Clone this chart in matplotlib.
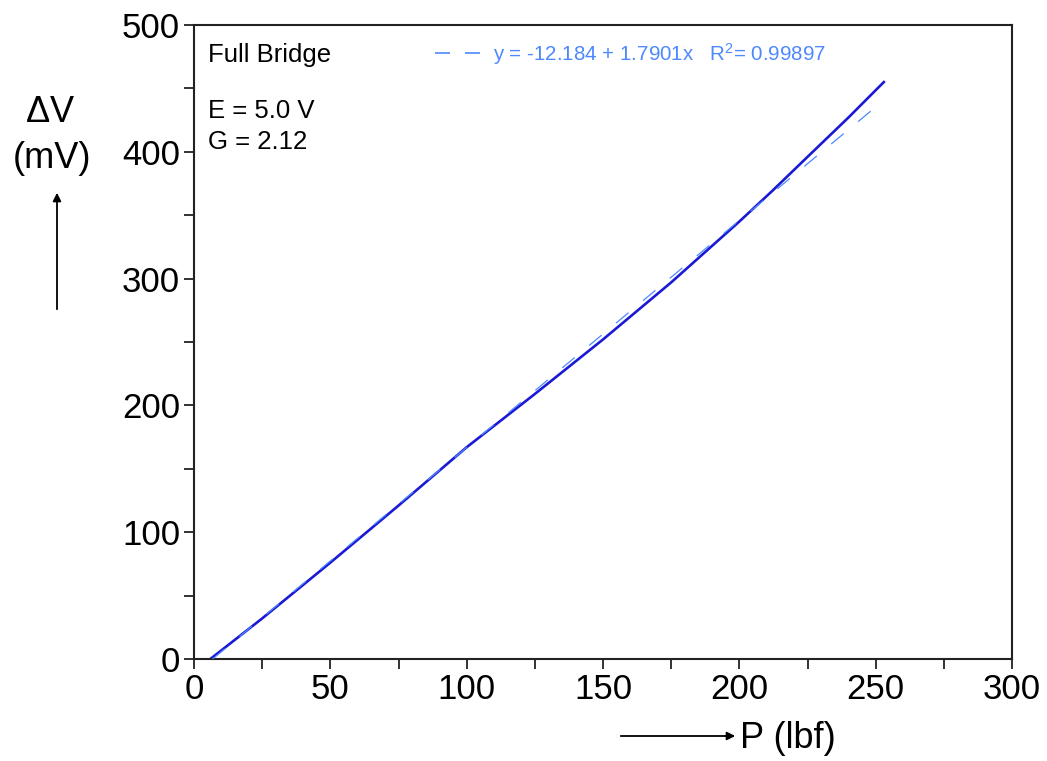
import matplotlib
matplotlib.use("Agg")
from matplotlib import pyplot as plt
from matplotlib.lines import Line2D
import numpy

P = [6, 25, 50, 75, 100, 125, 150, 175, 200, 212, 225, 240, 253]
dV = [0, 32, 76, 121, 167, 209, 252, 297, 345, 369, 396, 427, 455]

# linear fit given on the chart
fitIntercept = -12.184
fitSlope = 1.7901
fitR2 = 0.99897
fitRange = [6.8, 250]

xTicks = [0, 50, 100, 150, 200, 250, 300]
yTicks = [0, 100, 200, 300, 400, 500]

plt.rcParams['font.family'] = ['Liberation Sans', 'DejaVu Sans']
plt.rcParams['mathtext.default'] = 'regular'

dataColor = '#1a1ad6'
fitColor = '#4d88ff'

fig = plt.figure(figsize=(10.47, 7.61), dpi=100)
ax = fig.add_axes([194 / 1047, 1 - 659 / 761, 818 / 1047, 634 / 761])

fitX = numpy.array(fitRange)
fitY = fitIntercept + fitSlope * fitX
label = 'y = %.3f + %.4fx   R$^2$= %.5f' % (fitIntercept, fitSlope, fitR2)
ax.plot(fitX, fitY, color=fitColor, lw=0.9, dashes=(13, 15), zorder=3)
ax.plot(P, dV, color=dataColor, lw=1.9, zorder=2)

ax.set_xlim(0, 300)
ax.set_ylim(0, 500)
ax.set_xticks(xTicks)
ax.set_yticks(yTicks)
ax.set_xticks(numpy.arange(0, 301, 25), minor=True)
ax.set_yticks(numpy.arange(0, 501, 50), minor=True)
ax.tick_params(which='both', direction='out', length=7, width=1.3, color='#222222',
               labelsize=25, pad=3)
for s in ax.spines.values():
    s.set_linewidth(1.5)
    s.set_color('#222222')

proxy = Line2D([], [], color=fitColor, lw=1.2, dashes=(9, 9))
ax.legend(handles=[proxy], labels=[label], loc='upper left', bbox_to_anchor=(0.272, 1.004),
          frameon=False, fontsize=14.8, handlelength=2.3, handletextpad=0.5,
          labelcolor=fitColor)

ax.text(0.017, 0.972, 'Full Bridge', transform=ax.transAxes, fontsize=18.5, va='top')
ax.text(0.017, 0.883, 'E = 5.0 V', transform=ax.transAxes, fontsize=18.5, va='top')
ax.text(0.017, 0.834, 'G = 2.12', transform=ax.transAxes, fontsize=18.5, va='top')

# axis labels with arrows
fig.text(50 / 1047, 1 - 112 / 761, r'$\Delta$V', fontsize=26, ha='center', va='center')
fig.text(52 / 1047, 1 - 158 / 761, '(mV)', fontsize=26, ha='center', va='center')
fig.patches.append(matplotlib.patches.FancyArrowPatch(
    (57 / 1047, 1 - 312 / 761), (57 / 1047, 1 - 190 / 761), transform=fig.transFigure,
    arrowstyle='-|>', mutation_scale=12, lw=1.3, color='black'))

fig.text(740 / 1047, 1 - 738 / 761, 'P (lbf)', fontsize=26, ha='left', va='center')
fig.patches.append(matplotlib.patches.FancyArrowPatch(
    (618 / 1047, 1 - 736 / 761), (738 / 1047, 1 - 736 / 761), transform=fig.transFigure,
    arrowstyle='-|>', mutation_scale=12, lw=1.3, color='black'))

plt.savefig('out.png', dpi=100)
